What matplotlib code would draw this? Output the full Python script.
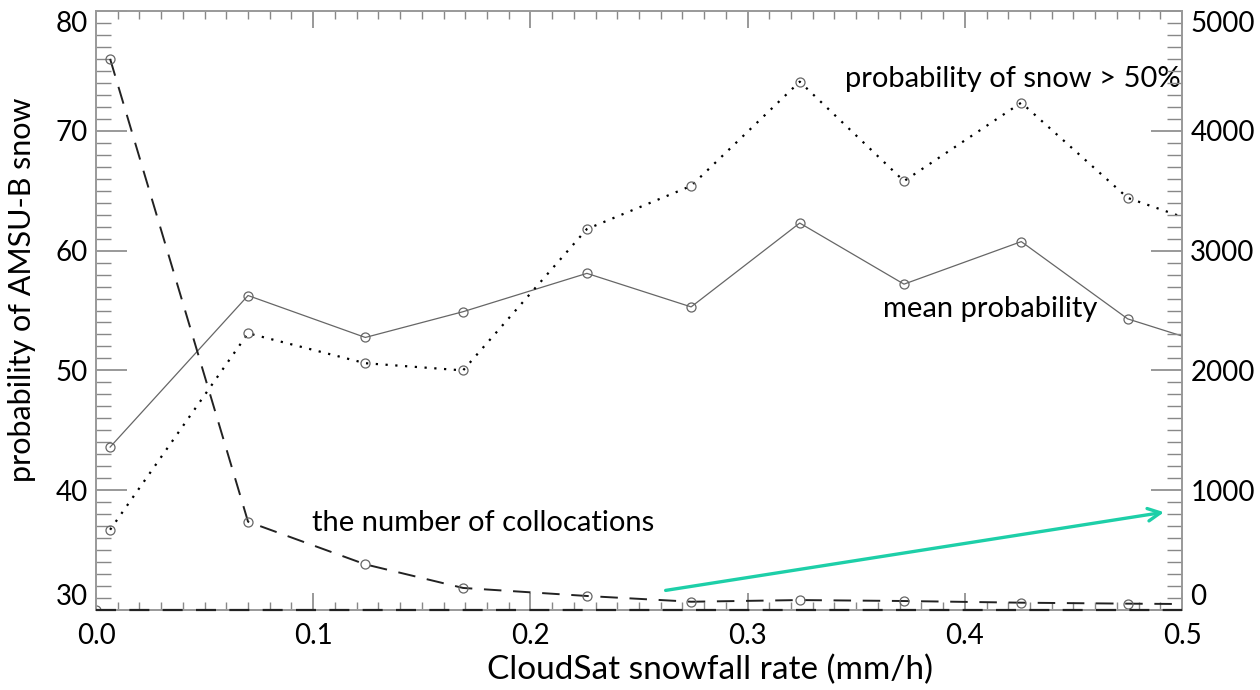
import matplotlib
matplotlib.use("Agg")
import matplotlib.pyplot as plt
import numpy as np
from matplotlib.ticker import MultipleLocator

plt.rcParams['font.family'] = ['Lato', 'DejaVu Sans']

# data
rate = [0.0065, 0.070, 0.124, 0.169, 0.226, 0.274, 0.324, 0.372, 0.426, 0.475]
mean_prob = [43.6, 56.25, 52.75, 54.9, 58.1, 55.3, 62.3, 57.2, 60.75, 54.3]
prob_gt50 = [36.7, 53.1, 50.6, 50.0, 61.8, 65.4, 74.1, 65.8, 72.35, 64.4]
n_colloc = [4600, 737, 381, 184, 117, 69, 83, 75, 61, 53]
# continuation beyond the right edge (clipped)
rate_next = 0.524
mean_next = 51.5
gt50_next = 61.3
n_next = 47

xticks = [0.0, 0.1, 0.2, 0.3, 0.4, 0.5]
yticks_left = [30, 40, 50, 60, 70, 80]
yticks_right = [0, 1000, 2000, 3000, 4000, 5000]

fig = plt.figure(figsize=(12.6, 6.9), dpi=100)
ax = fig.add_axes([96/1260, 1-610/690, (1182-96)/1260, (610-11)/690])
ax2 = ax.twinx()

mk = dict(marker='o', markersize=6.5, markerfacecolor='none', markeredgecolor='#666666', markeredgewidth=0.9)
every = list(range(len(rate)))

xs = rate + [rate_next]
ax.plot(xs, mean_prob + [mean_next], color='#666666', lw=0.9, markevery=every, **mk)
ax.plot(xs, prob_gt50 + [gt50_next], color='black', lw=1.6, linestyle=(0, (1.0, 3.4)), markevery=every, **mk)
ax2.plot(xs, n_colloc + [n_next], color='#222222', lw=1.4, linestyle=(0, (9, 6)), markevery=every, **mk)
ax2.plot([0.0, 0.5], [0, 0], color='#222222', lw=1.6, linestyle=(0, (9, 6)), clip_on=False, zorder=5)
ax2.plot([0.0], [0], **mk, clip_on=True)

ax.set_xlim(0, 0.5)
ax.set_ylim(30, 80)
ax2.set_ylim(0, 5000)

ax.set_xticks(xticks)
ax.set_xticklabels([f"{v:.1f}" for v in xticks])
ax.set_yticks(yticks_left)
ax.set_yticklabels([str(v) for v in yticks_left])
ax2.set_yticks(yticks_right)
ax2.set_yticklabels([str(v) for v in yticks_right])
ax.xaxis.set_minor_locator(MultipleLocator(0.01))
ax.yaxis.set_minor_locator(MultipleLocator(1))
ax2.yaxis.set_minor_locator(MultipleLocator(100))

for a in (ax, ax2):
    for s in a.spines.values():
        s.set_color('#999999')
        s.set_linewidth(1.2)
ax.tick_params(axis='x', which='both', direction='in', top=True, colors='#888888', labelcolor='black', labelsize=20, pad=9)
ax.tick_params(axis='x', which='major', length=12, width=1.2)
ax.tick_params(axis='x', which='minor', length=6, width=1.0)
ax.tick_params(axis='y', which='both', direction='in', left=True, right=False, colors='#888888', labelcolor='black', labelsize=20, pad=6)
ax.tick_params(axis='y', which='major', length=22, width=1.2)
ax.tick_params(axis='y', which='minor', length=11, width=1.0)
ax2.tick_params(axis='y', which='both', direction='in', colors='#888888', labelcolor='black', labelsize=20, pad=6)
ax2.tick_params(axis='y', which='major', length=22, width=1.2)
ax2.tick_params(axis='y', which='minor', length=11, width=1.0)

# keep end labels inside the frame height, as in the original
for a in (ax, ax2):
    labs = a.get_yticklabels()
    labs[0].set_va('bottom')
    labs[-1].set_va('top')

ax.set_xlabel('CloudSat snowfall rate (mm/h)', fontsize=24, labelpad=4)
ax.xaxis.set_label_coords(0.565, -0.075)
ax.set_ylabel('probability of AMSU-B snow', fontsize=22, labelpad=8)
ax.yaxis.set_label_coords(-0.055, 0.535)

ax.text(0.4995, 74.3, 'probability of snow > 50%', fontsize=21, ha='right', va='center')
ax.text(0.4116, 55.1, 'mean probability', fontsize=21, ha='center', va='center')
ax.text(0.0994, 37.3, 'the number of collocations', fontsize=21, ha='left', va='center')

ax.annotate('', xy=(0.493, 38.2), xytext=(0.261, 31.6),
            arrowprops=dict(arrowstyle='->,head_length=0.9,head_width=0.45', color='#1dcfa8', lw=2.4))

fig.savefig('out.png', dpi=100)
